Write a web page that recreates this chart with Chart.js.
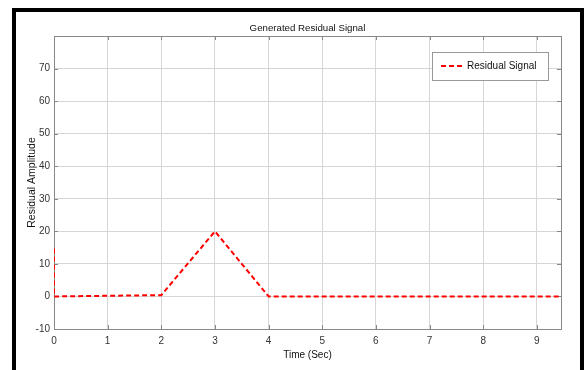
<!DOCTYPE html>
<html>
<head>
<meta charset="utf-8">
<script src="https://cdn.jsdelivr.net/npm/chart.js@4.4.1/dist/chart.umd.min.js"></script>
<style>
  html, body { margin: 0; padding: 0; background: #fff; }
  #wrap { position: relative; width: 585px; height: 370px; overflow: hidden; }
  #frame {
    position: absolute; left: 12px; top: 8px; width: 572px; height: 400px;
    border: 4px solid #000; box-sizing: border-box; pointer-events: none;
  }
  canvas { position: absolute; left: 0; top: 0; }
</style>
</head>
<body>
<div id="wrap">
  <canvas id="residual-chart" width="585" height="370"></canvas>
  <div id="frame"></div>
</div>
<script>
// signal
const timeSec = [0, 0, 2, 3, 4, 9.45];
const residual = [14.7, 0, 0.4, 20, 0, 0];
const xTicks = [0, 1, 2, 3, 4, 5, 6, 7, 8, 9];
const yTicks = [-10, 0, 10, 20, 30, 40, 50, 60, 70];
const seriesName = 'Residual Signal';
const chartTitle = 'Generated Residual Signal';

const FONT = "'Liberation Sans', Arial, sans-serif";
const TXT = '#333';

const points = timeSec.map((t, i) => ({ x: t, y: residual[i] }));

// title centred over the axes (MATLAB style), plus the boxed legend
const annotations = {
    id: 'annotations',
    afterDatasetsDraw(chart) {
        const { ctx, chartArea: a } = chart;
        ctx.save();
        ctx.fillStyle = '#111';
        ctx.font = '9.7px ' + FONT;
        ctx.textAlign = 'center';
        ctx.textBaseline = 'middle';
        ctx.fillText(chartTitle, (a.left + a.right) / 2, 28);

        const x = 432, y = 52, w = 116, h = 28;
        ctx.fillStyle = '#fff';
        ctx.fillRect(x, y, w, h);
        ctx.strokeStyle = '#999';
        ctx.lineWidth = 1;
        ctx.strokeRect(x + 0.5, y + 0.5, w, h);
        ctx.strokeStyle = '#ff0000';
        ctx.lineWidth = 2;
        ctx.setLineDash([5, 3]);
        ctx.beginPath();
        ctx.moveTo(441, y + 14);
        ctx.lineTo(465, y + 14);
        ctx.stroke();
        ctx.setLineDash([]);
        ctx.fillStyle = '#111';
        ctx.font = '10px ' + FONT;
        ctx.textAlign = 'left';
        ctx.fillText(seriesName, 467, y + 14);
        ctx.restore();
    }
};

// axes box and small inward ticks
const axesBox = {
    id: 'axesBox',
    beforeDatasetsDraw(chart) {
        const { ctx, chartArea: a, scales } = chart;
        ctx.save();
        ctx.strokeStyle = '#888';
        ctx.lineWidth = 1;
        ctx.strokeRect(a.left + 0.5, a.top + 0.5, a.right - a.left, a.bottom - a.top);
        ctx.beginPath();
        xTicks.forEach(t => {
            const px = Math.round(scales.x.getPixelForValue(t)) + 0.5;
            ctx.moveTo(px, a.bottom); ctx.lineTo(px, a.bottom - 4);
            ctx.moveTo(px, a.top); ctx.lineTo(px, a.top + 4);
        });
        yTicks.forEach(v => {
            const py = Math.round(scales.y.getPixelForValue(v)) + 0.5;
            ctx.moveTo(a.left, py); ctx.lineTo(a.left + 4, py);
            ctx.moveTo(a.right, py); ctx.lineTo(a.right - 4, py);
        });
        ctx.stroke();
        ctx.restore();
    }
};

new Chart(document.getElementById('residual-chart'), {
    type: 'line',
    data: {
        datasets: [{
            label: seriesName,
            data: points,
            borderColor: '#ff0000',
            borderWidth: 2,
            borderDash: [5, 3],
            pointRadius: 0,
            tension: 0,
            fill: false
        }]
    },
    options: {
        responsive: false,
        animation: false,
        layout: { padding: { left: 0, right: 24, top: 36, bottom: 0 } },
        plugins: {
            legend: { display: false },
            tooltip: { enabled: false },
            title: { display: false }
        },
        scales: {
            x: {
                type: 'linear',
                min: 0,
                max: 9.45,
                afterFit: s => { s.height = 41; },
                afterBuildTicks: s => { s.ticks = xTicks.map(v => ({ value: v })); },
                grid: { color: '#d6d6d6', drawTicks: false },
                border: { display: false },
                ticks: {
                    padding: 6,
                    color: TXT,
                    font: { family: FONT, size: 10 }
                },
                title: {
                    display: true,
                    text: 'Time (Sec)',
                    color: '#111',
                    font: { family: FONT, size: 10 },
                    padding: { top: 0, bottom: 9 }
                }
            },
            y: {
                min: -10,
                max: 80,
                afterFit: s => { s.width = 54; },
                afterBuildTicks: s => { s.ticks = yTicks.concat([80]).map(v => ({ value: v })); },
                grid: { color: '#d6d6d6', drawTicks: false },
                border: { display: false },
                ticks: {
                    padding: 4,
                    color: TXT,
                    font: { family: FONT, size: 10 },
                    callback: v => (v === 80 ? '' : v)
                },
                title: {
                    display: true,
                    text: 'Residual Amplitude',
                    color: '#111',
                    font: { family: FONT, size: 10.5 },
                    padding: { top: 26, bottom: 0 }
                }
            }
        }
    },
    plugins: [axesBox, annotations]
});
</script>
</body>
</html>
